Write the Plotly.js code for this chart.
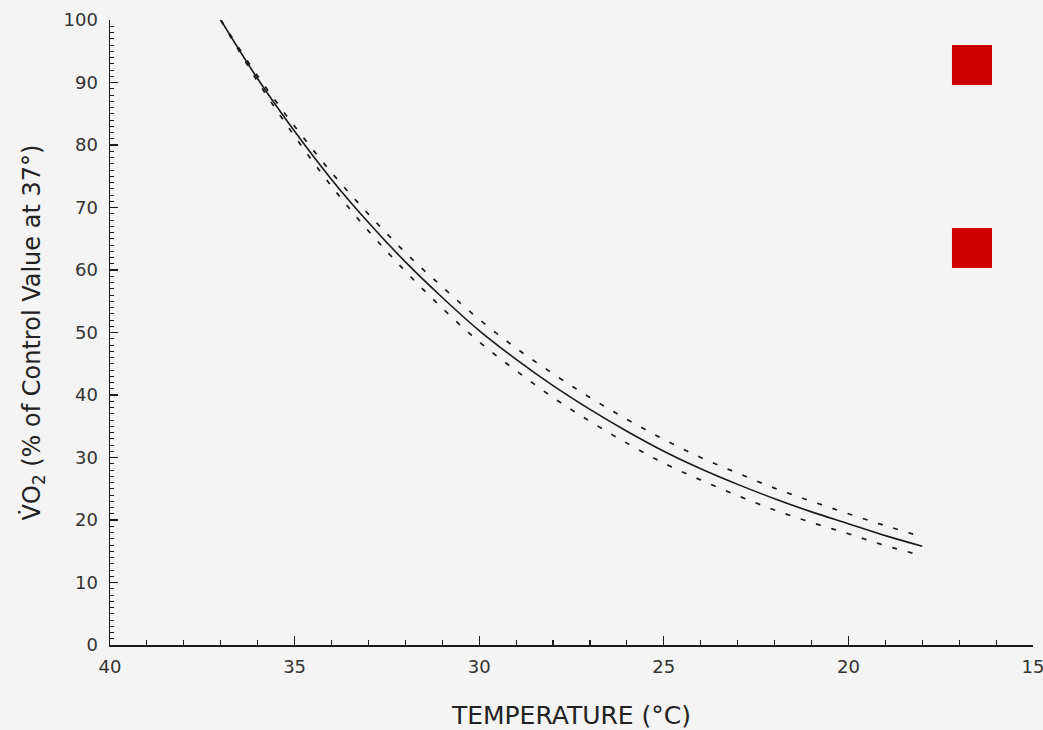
<!DOCTYPE html>
<html>
<head>
<meta charset="utf-8">
<script src="https://cdn.plot.ly/plotly-3.0.1.min.js"></script>
<style>html,body{margin:0;padding:0;background:#f4f4f4;}#chart{width:1043px;height:730px;}</style>
</head>
<body>
<div id="chart"></div>
<script>
// Temperature (°C)
const temperature = [37, 36, 35, 34, 33, 32, 31, 30, 29, 28, 27, 26, 25, 24, 23, 22, 21, 20, 19, 18];
// VO2 fitted curve (% of control value at 37°)
const vo2Fit = [100, 90.6, 82.2, 74.5, 67.6, 61.3, 55.6, 50.3, 45.7, 41.5, 37.7, 34.2, 31.0, 28.2, 25.7, 23.4, 21.3, 19.4, 17.5, 15.8];
// Upper and lower confidence limits
const vo2Upper = [100, 91.05, 83.0, 75.6, 68.95, 62.8, 57.3, 52.1, 47.5, 43.4, 39.6, 36.1, 32.9, 30.0, 27.5, 25.1, 23.0, 21.0, 19.1, 17.3];
const vo2Lower = [100, 90.15, 81.4, 73.4, 66.25, 59.8, 53.9, 48.5, 43.9, 39.6, 35.8, 32.3, 29.1, 26.4, 23.9, 21.6, 19.6, 17.8, 15.9, 14.3];
// Axis ticks
const xTicks = [40, 35, 30, 25, 20, 15];
const yTicks = [0, 10, 20, 30, 40, 50, 60, 70, 80, 90, 100];

const ink = '#1a1a1a';
const traces = [
  {x: temperature, y: vo2Upper, mode: 'lines', line: {color: ink, width: 1.7, dash: '5px,11px', shape: 'spline'}, hoverinfo: 'skip'},
  {x: temperature, y: vo2Lower, mode: 'lines', line: {color: ink, width: 1.7, dash: '5px,11px', shape: 'spline'}, hoverinfo: 'skip'},
  {x: temperature, y: vo2Fit, mode: 'lines', line: {color: ink, width: 1.6, shape: 'spline'}}
];

const tickFont = {family: 'DejaVu Sans', size: 18, color: '#333'};
const layout = {
  width: 1043, height: 730,
  paper_bgcolor: '#f4f4f4', plot_bgcolor: '#f4f4f4',
  showlegend: false,
  margin: {l: 110, r: 10, t: 20, b: 85},
  xaxis: {
    range: [40, 15], tickvals: xTicks, ticktext: xTicks.map(String),
    showgrid: false, zeroline: false, showline: true, linecolor: ink, linewidth: 1.5,
    ticks: 'inside', ticklen: 9, tickwidth: 1.3, tickcolor: ink,
    minor: {ticks: 'inside', dtick: 1, ticklen: 5, tickwidth: 1.1, tickcolor: ink, showgrid: false},
    tickfont: tickFont, ticklabelstandoff: 5, ticklabeloverflow: 'allow',
    title: {text: 'TEMPERATURE (°C)', font: {family: 'DejaVu Sans', size: 25, color: '#222'}, standoff: 30}
  },
  yaxis: {
    range: [0, 100], tickvals: yTicks, ticktext: yTicks.map(String),
    showgrid: false, zeroline: false, showline: true, linecolor: ink, linewidth: 1.5,
    ticks: 'inside', ticklen: 8, tickwidth: 1.3, tickcolor: ink,
    minor: {ticks: 'inside', dtick: 1, ticklen: 4, tickwidth: 1, tickcolor: ink, showgrid: false},
    tickfont: tickFont, ticklabelstandoff: 7, ticklabeloverflow: 'allow',
    title: {text: 'V\u0307O<sub>2</sub> (% of Control Value at 37°)', font: {family: 'DejaVu Sans', size: 24, color: '#222'}, standoff: 16}
  },
  shapes: [
    {type: 'rect', xref: 'paper', yref: 'paper', x0: 0.9122, x1: 0.9556, y0: 0.96, y1: 0.896, fillcolor: '#cc0000', line: {width: 0}},
    {type: 'rect', xref: 'paper', yref: 'paper', x0: 0.9122, x1: 0.9556, y0: 0.6672, y1: 0.6032, fillcolor: '#cc0000', line: {width: 0}}
  ]
};

Plotly.newPlot('chart', traces, layout, {displayModeBar: false, staticPlot: true});
</script>
</body>
</html>
